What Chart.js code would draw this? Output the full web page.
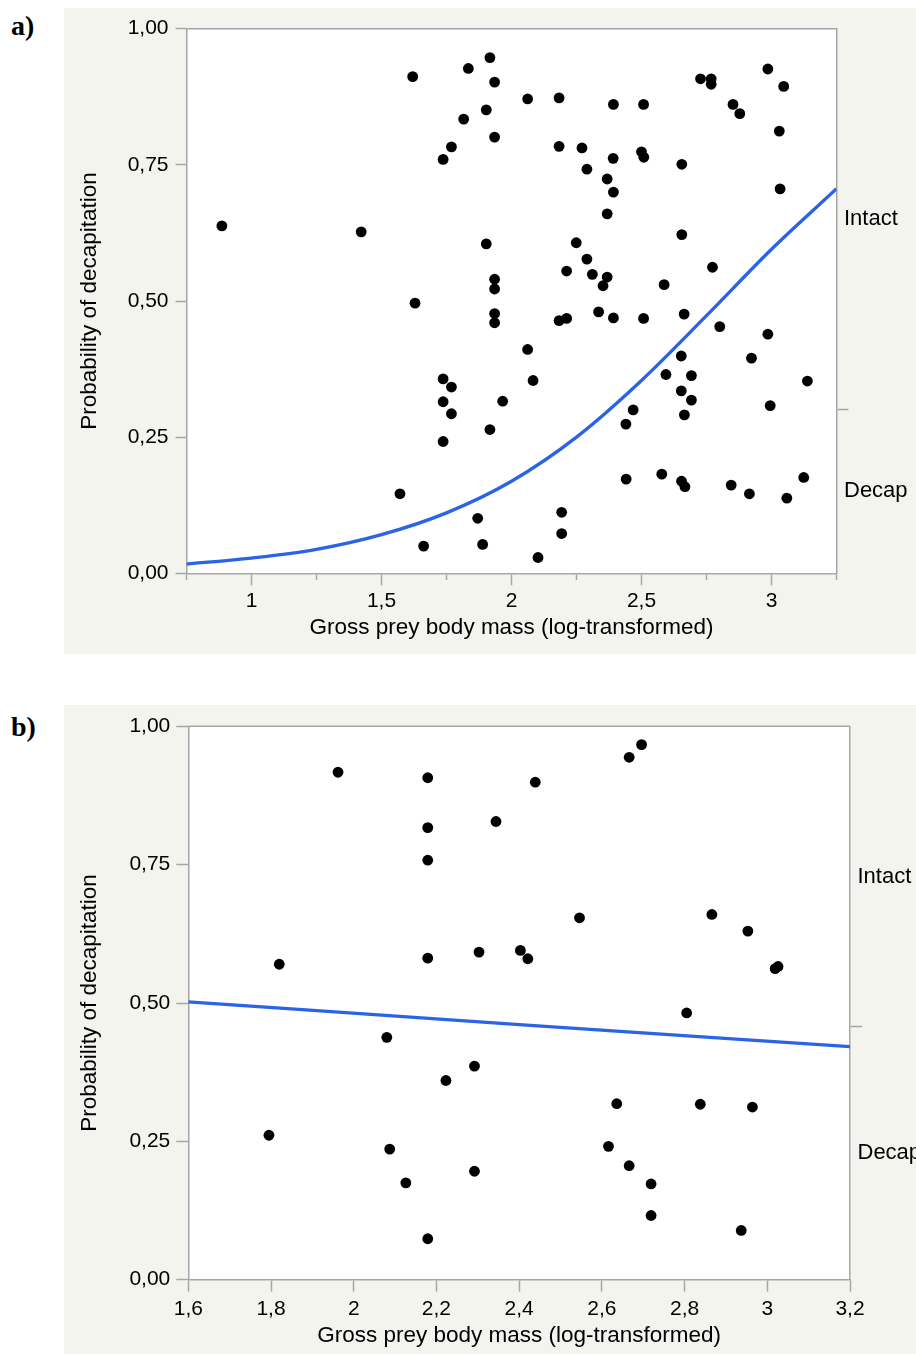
<!DOCTYPE html>
<html>
<head>
<meta charset="utf-8">
<title>Probability of decapitation vs. gross prey body mass</title>
<script src="https://cdn.jsdelivr.net/npm/chart.js@4.4.1/dist/chart.umd.min.js"></script>
<style>
  html, body { margin: 0; padding: 0; background: #fff; width: 916px; height: 1354px; overflow: hidden; }
  .panel { position: absolute; left: 64px; width: 852px; background: #f4f4ee; }
  .tag { position: absolute; left: 11px; font: bold 28px "Liberation Serif", "Times New Roman", serif; line-height: 28px; color: #000; }
</style>
</head>
<body>
<div class="tag" style="top:12px">a)</div>
<div class="panel" style="top:8px;height:646px"><canvas id="chartA"></canvas></div>
<div class="tag" style="top:713px">b)</div>
<div class="panel" style="top:705px;height:649px"><canvas id="chartB"></canvas></div>

<script>
// ---- Panel a: all prey ----
const massA = [0.886, 1.422, 1.620, 1.629, 1.737, 1.769, 1.571, 1.662, 1.737, 1.769,
               1.737, 1.769, 1.737, 1.917, 1.834, 1.935, 2.062, 2.183, 1.903, 1.816,
               2.392, 2.508, 2.727, 2.768, 2.768, 2.986, 3.047, 2.852, 2.878, 3.030,
               1.935, 2.183, 2.271, 2.290, 2.391, 2.500, 2.509, 2.655, 2.368, 2.392,
               2.368, 3.033, 2.655, 1.903, 2.249, 2.290, 2.773, 1.935, 1.935, 2.212,
               2.311, 2.368, 2.352, 2.587, 1.935, 1.935, 2.183, 2.212, 2.335, 2.392,
               2.508, 2.664, 2.801, 2.062, 2.986, 2.923, 2.653, 2.594, 2.692, 2.083,
               3.138, 2.653, 2.692, 1.966, 2.995, 2.468, 2.665, 2.440, 1.917, 2.441,
               2.578, 2.654, 2.667, 2.845, 2.915, 3.059, 3.124, 1.870, 2.193, 2.193,
               1.889, 2.102];
const probA = [0.638, 0.627, 0.912, 0.496, 0.760, 0.783, 0.146, 0.050, 0.357, 0.342,
               0.315, 0.293, 0.242, 0.947, 0.927, 0.902, 0.871, 0.873, 0.851, 0.834,
               0.861, 0.861, 0.908, 0.908, 0.898, 0.926, 0.894, 0.861, 0.844, 0.812,
               0.801, 0.784, 0.781, 0.742, 0.762, 0.774, 0.764, 0.751, 0.724, 0.700,
               0.660, 0.706, 0.622, 0.605, 0.607, 0.577, 0.562, 0.540, 0.522, 0.555,
               0.549, 0.544, 0.528, 0.530, 0.477, 0.460, 0.464, 0.468, 0.480, 0.469,
               0.468, 0.476, 0.453, 0.411, 0.439, 0.395, 0.399, 0.365, 0.363, 0.354,
               0.353, 0.335, 0.318, 0.316, 0.308, 0.300, 0.291, 0.274, 0.264, 0.173,
               0.182, 0.169, 0.159, 0.162, 0.146, 0.138, 0.176, 0.101, 0.112, 0.073,
               0.053, 0.029];
// fitted logistic curve
const fitMassA = [0.75, 1.0, 1.25, 1.5, 1.75, 2.0, 2.25, 2.5, 2.75, 3.0, 3.25];
const fitProbA = [0.017, 0.028, 0.044, 0.071, 0.111, 0.169, 0.250, 0.354, 0.473, 0.595, 0.706];
const xTicksA = [0.75, 1, 1.25, 1.5, 1.75, 2, 2.25, 2.5, 2.75, 3, 3.25];
const xLabelsA = ['', '1', '', '1,5', '', '2', '', '2,5', '', '3', ''];
const splitA = 0.301;   // boundary between Decap (below) and Intact (above)

// ---- Panel b ----
const massB = [1.962, 2.179, 2.179, 2.179, 1.820, 2.179, 2.696, 2.666, 2.439, 2.344,
               2.546, 2.866, 2.953, 3.019, 3.026, 2.303, 2.403, 2.421, 2.805, 2.080,
               2.223, 1.795, 2.087, 2.126, 2.179, 2.292, 2.636, 2.838, 2.964, 2.616,
               2.292, 2.666, 2.719, 2.719, 2.937];
const probB = [0.917, 0.907, 0.817, 0.758, 0.570, 0.581, 0.967, 0.944, 0.899, 0.828,
               0.654, 0.660, 0.630, 0.562, 0.566, 0.592, 0.595, 0.580, 0.482, 0.438,
               0.360, 0.261, 0.236, 0.175, 0.074, 0.386, 0.318, 0.317, 0.312, 0.241,
               0.196, 0.206, 0.173, 0.116, 0.089];
const fitMassB = [1.6, 2.4, 3.2];
const fitProbB = [0.502, 0.461, 0.421];
const xTicksB = [1.6, 1.8, 2, 2.2, 2.4, 2.6, 2.8, 3, 3.2];
const xLabelsB = ['1,6', '1,8', '2', '2,2', '2,4', '2,6', '2,8', '3', '3,2'];
const splitB = 0.457;

// ---- shared ----
const yTicks = [0, 0.25, 0.5, 0.75, 1];
const yLabels = ['0,00', '0,25', '0,50', '0,75', '1,00'];
const outcomeLabels = ['Decap', 'Intact'];
const xTitle = 'Gross prey body mass (log-transformed)';
const yTitle = 'Probability of decapitation';

const FONT = '"Liberation Sans", Arial, Helvetica, sans-serif';
const AXIS_GRAY = '#a6a6a6';
const CURVE_BLUE = '#2a63e6';

const plotFrame = {
  id: 'plotFrame',
  beforeDraw(chart) {
    const { ctx, chartArea: a } = chart;
    ctx.save();
    ctx.fillStyle = '#ffffff';
    ctx.fillRect(a.left, a.top, a.right - a.left, a.bottom - a.top);
    ctx.restore();
  },
  afterDraw(chart) {
    const { ctx, chartArea: a } = chart;
    ctx.save();
    ctx.strokeStyle = AXIS_GRAY;
    ctx.lineWidth = 1.5;
    ctx.beginPath();
    ctx.moveTo(a.left, a.top);
    ctx.lineTo(a.right, a.top);
    ctx.stroke();
    ctx.restore();
  }
};

function setTicks(values) {
  return scale => { scale.ticks = values.map(v => ({ value: v })); };
}

function buildPanel(id, p) {
  const points = p.mass.map((m, i) => ({ x: m, y: p.prob[i] }));
  const fit = p.fitMass.map((m, i) => ({ x: m, y: p.fitProb[i] }));
  const sideTicks = [p.split / 2, p.split, (p.split + 1) / 2];
  const sideText = [outcomeLabels[0], '', outcomeLabels[1]];

  return new Chart(document.getElementById(id), {
    type: 'scatter',
    data: {
      datasets: [
        { data: points, pointRadius: 5.4, pointBackgroundColor: '#000', pointBorderWidth: 0, order: 1 },
        { data: fit, showLine: true, borderColor: CURVE_BLUE, borderWidth: 3.3, pointRadius: 0,
          cubicInterpolationMode: 'monotone', order: 2 }
      ]
    },
    options: {
      responsive: true,
      maintainAspectRatio: false,
      animation: false,
      events: [],
      layout: { padding: { top: p.padTop, left: 0, right: 0, bottom: 0 } },
      plugins: { legend: { display: false }, tooltip: { enabled: false } },
      scales: {
        x: {
          type: 'linear', position: 'bottom', min: p.xTicks[0], max: p.xTicks[p.xTicks.length - 1],
          afterBuildTicks: setTicks(p.xTicks),
          afterFit: s => { s.height = p.xAxisH; },
          ticks: { autoSkip: false, maxRotation: 0, padding: p.xTickPad, color: '#000',
                   font: { family: FONT, size: 21 }, callback: (v, i) => p.xLabels[i] },
          grid: { drawOnChartArea: false, tickLength: 12, tickWidth: 1.5, tickColor: AXIS_GRAY,
                  tickBorderDash: ctx => (p.xLabels[ctx.index] ? [] : [5.5, 60]) },
          border: { color: AXIS_GRAY, width: 1.5 },
          title: { display: true, text: xTitle, color: '#000', font: { family: FONT, size: 22.5 },
                   padding: { top: 0, bottom: p.xTitlePad } }
        },
        y: {
          type: 'linear', position: 'left', min: 0, max: 1,
          afterBuildTicks: setTicks(yTicks),
          afterFit: s => { s.width = p.yAxisW; },
          ticks: { autoSkip: false, padding: p.yTickPad, color: '#000',
                   font: { family: FONT, size: 21 }, callback: (v, i) => yLabels[i] },
          grid: { drawOnChartArea: false, tickLength: p.yTickLen, tickWidth: 1.5, tickColor: AXIS_GRAY },
          border: { color: AXIS_GRAY, width: 1.5 },
          title: { display: true, text: yTitle, color: '#000', font: { family: FONT, size: 22.5 },
                   padding: { top: 12.5, bottom: 0 } }
        },
        y2: {
          type: 'linear', position: 'right', min: 0, max: 1,
          afterBuildTicks: setTicks(sideTicks),
          afterFit: s => { s.width = p.sideAxisW; },
          ticks: { autoSkip: false, padding: -4.5, color: '#000',
                   font: { family: FONT, size: 22 }, callback: (v, i) => sideText[i] },
          grid: { drawOnChartArea: false, tickLength: 12, tickWidth: 1.5,
                  tickColor: ctx => (ctx.index === 1 ? AXIS_GRAY : 'rgba(0,0,0,0)') },
          border: { color: AXIS_GRAY, width: 1.5 }
        }
      }
    },
    plugins: [plotFrame]
  });
}

buildPanel('chartA', {
  mass: massA, prob: probA, fitMass: fitMassA, fitProb: fitProbA,
  xTicks: xTicksA, xLabels: xLabelsA, split: splitA,
  padTop: 20.7, yAxisW: 122.5, sideAxisW: 79.5, xAxisH: 80.7,
  xTickPad: 3.1, xTitlePad: 13.1, yTickPad: 7, yTickLen: 11
});

buildPanel('chartB', {
  mass: massB, prob: probB, fitMass: fitMassB, fitProb: fitProbB,
  xTicks: xTicksB, xLabels: xLabelsB, split: splitB,
  padTop: 21.3, yAxisW: 124.3, sideAxisW: 66, xAxisH: 74.3,
  xTickPad: 4.5, xTitlePad: 4.8, yTickPad: 6, yTickLen: 12
});
</script>
</body>
</html>
